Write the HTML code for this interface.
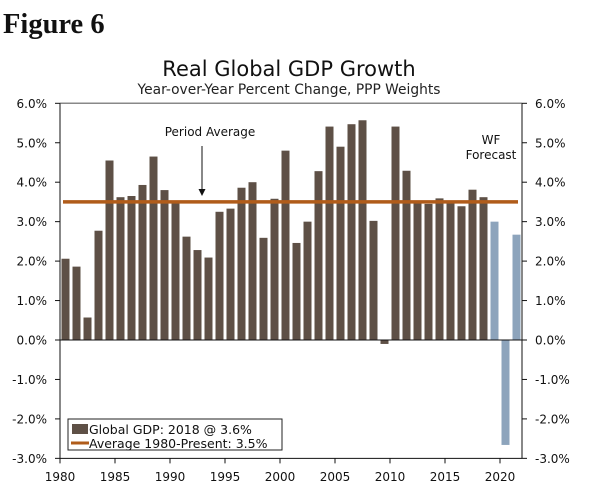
<!DOCTYPE html>
<html><head><meta charset="utf-8"><style>
body{margin:0;background:#fff;width:600px;height:487px;overflow:hidden}
svg text{font-family:"DejaVu Sans","Liberation Sans",sans-serif;fill:#111}
</style></head><body>
<svg width="600" height="487">
<text x="3" y="33" style="font-family:'Liberation Serif',serif;font-weight:bold;font-size:28.5px">Figure 6</text>
<text x="289" y="76" text-anchor="middle" style="font-size:21px">Real Global GDP Growth</text>
<text x="289" y="94" text-anchor="middle" style="font-size:13.8px;fill:#222">Year-over-Year Percent Change, PPP Weights</text>
<g id="g"></g>
</svg>
<script>
const years=[1980,1981,1982,1983,1984,1985,1986,1987,1988,1989,1990,1991,1992,1993,1994,1995,1996,1997,1998,1999,2000,2001,2002,2003,2004,2005,2006,2007,2008,2009,2010,2011,2012,2013,2014,2015,2016,2017,2018,2019,2020,2021];
const gdp=[2.06,1.86,0.57,2.77,4.55,3.62,3.65,3.93,4.65,3.80,3.5,2.62,2.28,2.09,3.25,3.33,3.86,4.0,2.59,3.58,4.8,2.46,3.0,4.28,5.41,4.9,5.47,5.57,3.02,-0.1,5.41,4.29,3.48,3.45,3.59,3.47,3.39,3.81,3.62,3.0,-2.66,2.67];
const forecast=[false,false,false,false,false,false,false,false,false,false,false,false,false,false,false,false,false,false,false,false,false,false,false,false,false,false,false,false,false,false,false,false,false,false,false,false,false,false,false,true,true,true];
const yTicks=[6,5,4,3,2,1,0,-1,-2,-3];
const xTicks=[1980,1985,1990,1995,2000,2005,2010,2015,2020];
const avg=[3.5];
const NS='http://www.w3.org/2000/svg';
const g=document.getElementById('g');
const X0=60,X1=522,Y0=340,PX=39.45;
const xs=yr=>X0+(yr-1980)*11;
const ys=v=>Y0-v*PX;
function mk(t,a){const e=document.createElementNS(NS,t);for(const k in a)e.setAttribute(k,a[k]);g.appendChild(e);return e;}
let e=mk('line',{x1:X0,y1:ys(6),x2:X1,y2:ys(6),stroke:'#888',"stroke-width":1.5});


years.forEach((yr,i)=>{const v=gdp[i];const b=mk('rect',{x:xs(yr)+1.5,width:8,y:Math.min(ys(v),Y0),height:Math.abs(ys(v)-Y0),fill:forecast[i]?'#8da4bc':'#5e5046'});

});
e=mk('line',{x1:X0,y1:Y0,x2:X1,y2:Y0,stroke:'#111',"stroke-width":1});


e=mk('line',{x1:63,y1:ys(avg[0]),x2:518,y2:ys(avg[0]),stroke:'#b05c1a',"stroke-width":3.5});


e=mk('line',{x1:X0,y1:ys(6),x2:X0,y2:ys(-3),stroke:'#111'});


e=mk('line',{x1:X1,y1:ys(6),x2:X1,y2:ys(-3),stroke:'#111'});


e=mk('line',{x1:X0,y1:ys(-3),x2:X1,y2:ys(-3),stroke:'#111'});


yTicks.forEach(v=>{const y=ys(v);mk('line',{x1:X0-5,y1:y,x2:X0,y2:y,stroke:'#111'});mk('line',{x1:X1,y1:y,x2:X1+5,y2:y,stroke:'#111'});
const l=mk('text',{x:47,y:y+4.5,"text-anchor":"end","font-size":12});l.textContent=v.toFixed(1)+'%';


const r=mk('text',{x:535,y:y+4.5,"font-size":12});r.textContent=v.toFixed(1)+'%';

});
xTicks.forEach(yr=>{const x=xs(yr);mk('line',{x1:x,y1:ys(-3),x2:x,y2:ys(-3)+5,stroke:'#111'});
const t=mk('text',{x:x,y:481,"text-anchor":"middle","font-size":12});t.textContent=yr;

});
let t=mk('text',{x:210,y:136,"text-anchor":"middle","font-size":12});t.textContent='Period Average';


mk('line',{x1:202,y1:146,x2:202,y2:192,stroke:'#111'});
mk('path',{d:'M198.5,189 L205.5,189 L202,196 Z',fill:'#111'});
t=mk('text',{x:491,y:144,"text-anchor":"middle","font-size":12});t.textContent='WF';


t=mk('text',{x:491,y:159,"text-anchor":"middle","font-size":12});t.textContent='Forecast';
e=mk('rect',{x:68,y:419,width:214,height:31,fill:'#fff',stroke:'#222'});


mk('rect',{x:72,y:424,width:16,height:10,fill:'#5e5046'});
t=mk('text',{x:89,y:434,"font-size":12.5});t.textContent='Global GDP: 2018 @ 3.6%';


mk('line',{x1:71,y1:443,x2:89,y2:443,stroke:'#b05c1a',"stroke-width":3});
t=mk('text',{x:89,y:448,"font-size":12.5});t.textContent='Average 1980-Present: 3.5%';


</script>
</body></html>
